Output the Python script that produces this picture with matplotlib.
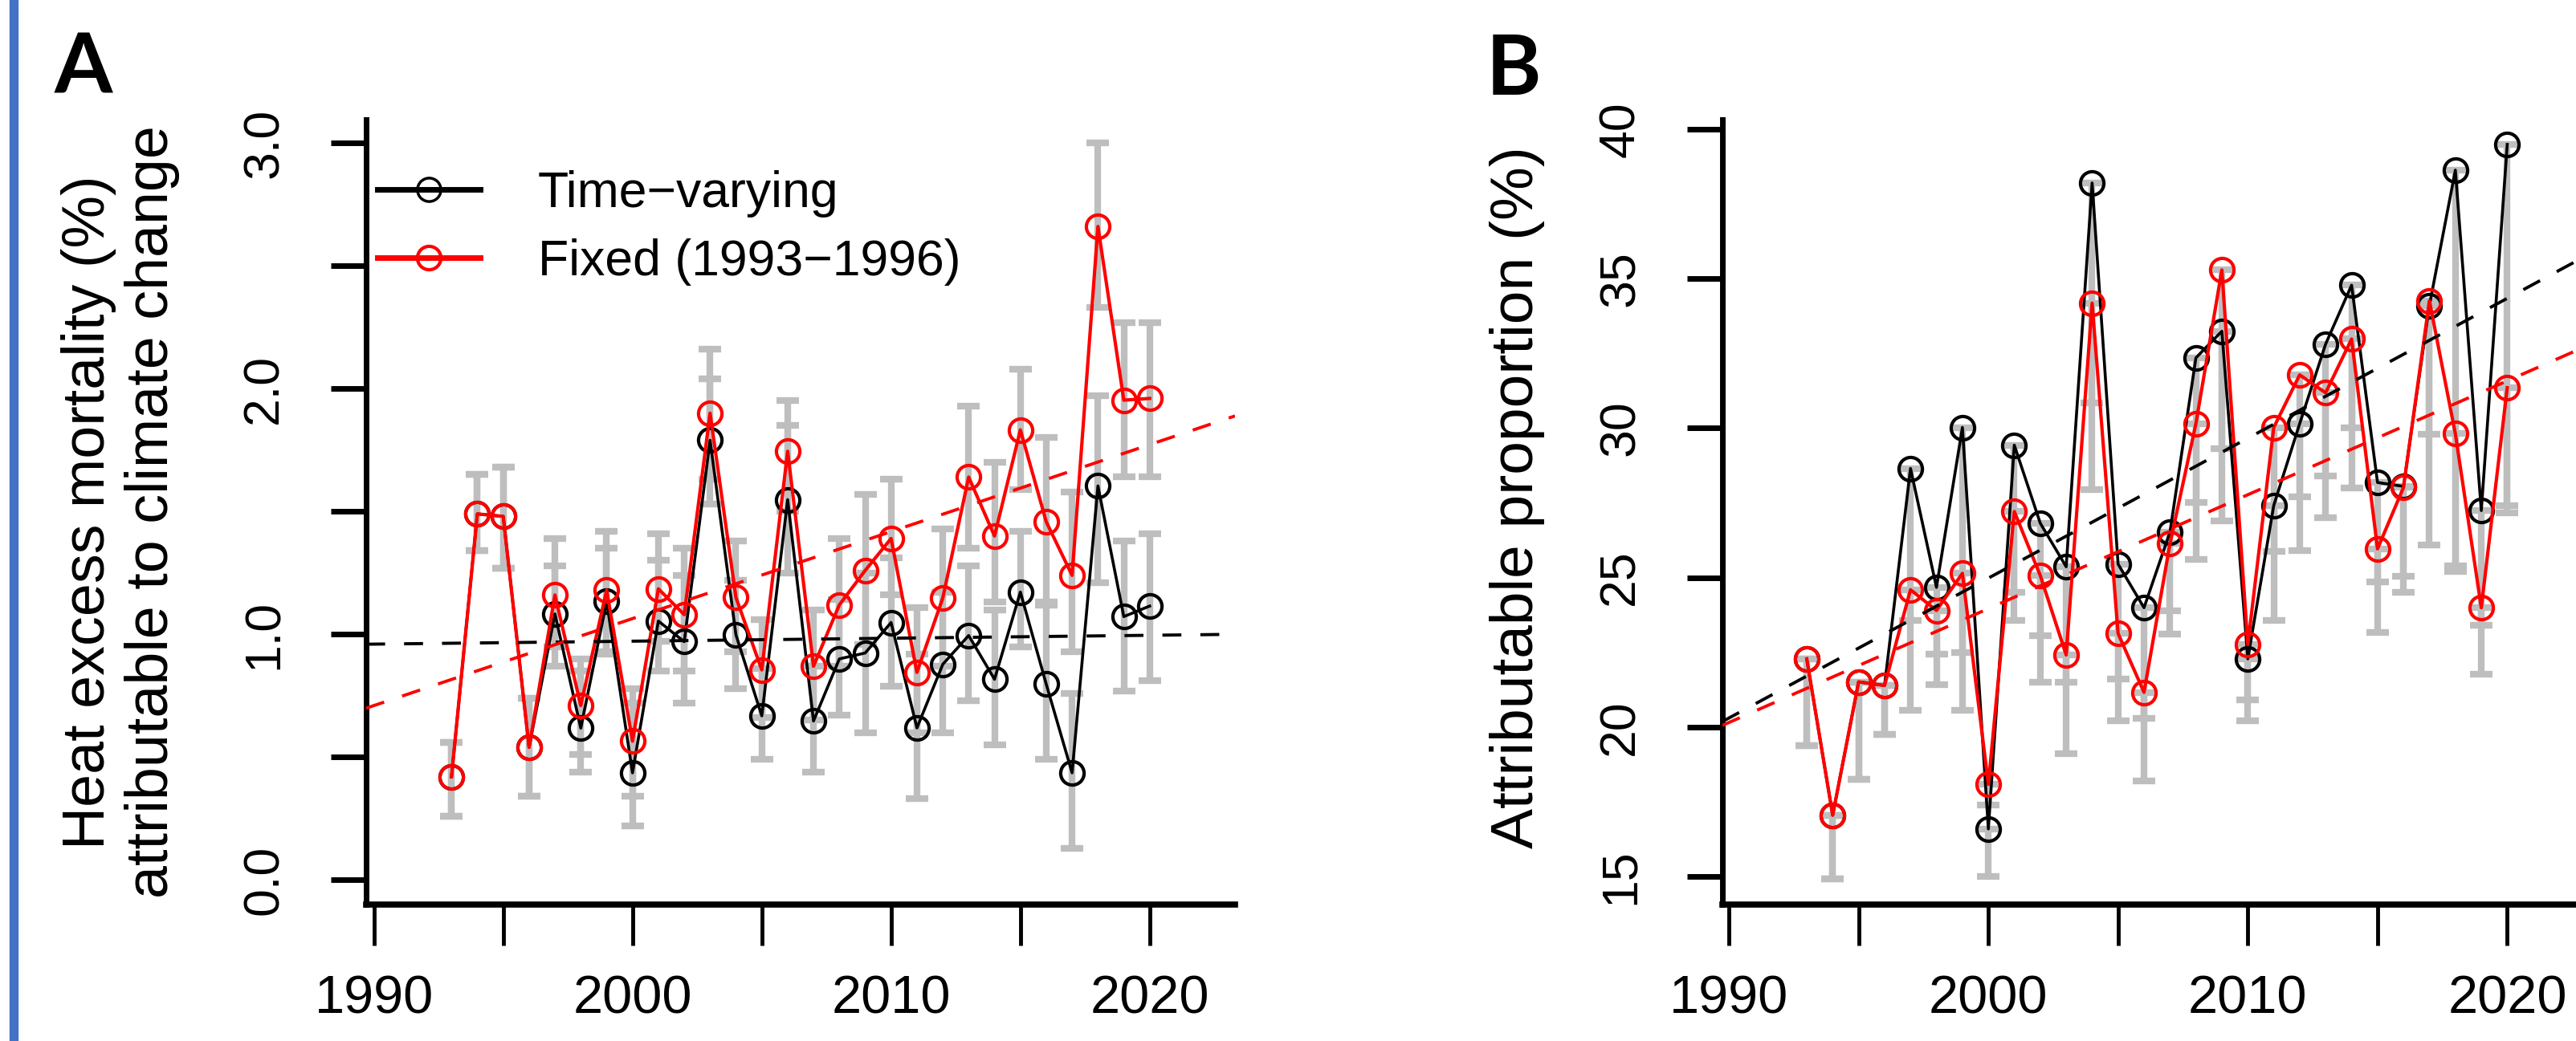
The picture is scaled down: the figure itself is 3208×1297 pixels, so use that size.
import matplotlib
matplotlib.use("Agg")
import matplotlib.pyplot as plt
import numpy as np
from matplotlib import font_manager
from matplotlib.lines import Line2D

# ---- data -------------------------------------------------------------
years = np.arange(1993, 2021)

# Panel A: heat excess mortality attributable to climate change (%)
a_time_varying = np.array([0.42, 1.49, 1.48, 0.54, 1.083, 0.618, 1.134, 0.436, 1.054, 0.97,
                           1.79, 0.998, 0.668, 1.548, 0.647, 0.90, 0.924, 1.048, 0.619, 0.878,
                           0.995, 0.817, 1.172, 0.797, 0.436, 1.604, 1.072, 1.115])
a_tv_low = np.array([0.26, 1.34, 1.27, 0.34, 0.87, 0.44, 0.92, 0.22, 0.85, 0.72,
                     1.53, 0.78, 0.49, 1.25, 0.44, 0.67, 0.60, 0.79, 0.33, 0.60,
                     0.73, 0.55, 0.95, 0.49, 0.13, 1.21, 0.77, 0.81])
a_tv_high = np.array([0.56, 1.65, 1.68, 0.74, 1.28, 0.85, 1.35, 0.72, 1.30, 1.24,
                      2.04, 1.22, 0.86, 1.85, 0.87, 1.14, 1.25, 1.31, 0.92, 1.17,
                      1.28, 1.10, 1.42, 1.12, 0.76, 1.97, 1.38, 1.41])
a_fixed = np.array([0.42, 1.49, 1.48, 0.54, 1.16, 0.71, 1.18, 0.565, 1.185, 1.08,
                    1.90, 1.15, 0.855, 1.745, 0.87, 1.12, 1.26, 1.39, 0.845, 1.148,
                    1.64, 1.40, 1.832, 1.458, 1.24, 2.66, 1.953, 1.96])
a_fx_low = np.array([0.26, 1.34, 1.27, 0.34, 0.95, 0.51, 0.93, 0.34, 0.97, 0.85,
                     1.63, 0.93, 0.66, 1.50, 0.65, 0.87, 0.96, 1.16, 0.60, 0.87,
                     1.35, 1.13, 1.59, 1.13, 0.93, 2.33, 1.64, 1.64])
a_fx_high = np.array([0.56, 1.65, 1.68, 0.74, 1.39, 0.90, 1.42, 0.78, 1.41, 1.35,
                      2.16, 1.38, 1.06, 1.95, 1.10, 1.39, 1.57, 1.63, 1.11, 1.43,
                      1.93, 1.70, 2.08, 1.80, 1.58, 3.00, 2.27, 2.27])
# linear trends: (value in 1990, slope per year)
a_trend_tv = (0.96, 0.0012)
a_trend_fx = (0.71, 0.0354)

# Panel B: attributable proportion (%), bars run from the lower bound to the estimate
b_time_varying = np.array([22.28, 17.05, 21.51, 21.39, 28.65, 24.67, 30.02, 16.59, 29.43, 26.82,
                           25.36, 38.20, 25.45, 23.99, 26.52, 32.35, 33.24, 22.28, 27.41, 30.15,
                           32.81, 34.78, 28.18, 28.05, 34.10, 38.63, 27.24, 39.49])
b_tv_low = np.array([19.37, 14.91, 18.25, 19.74, 20.57, 21.42, 20.57, 15.0, 23.56, 21.5,
                     21.5, 27.93, 20.2, 20.3, 23.1, 27.5, 26.9, 20.2, 23.56, 25.9,
                     27.0, 28.0, 24.85, 24.5, 26.1, 25.2, 23.4, 27.16])
b_fixed = np.array([22.28, 17.05, 21.51, 21.39, 24.59, 23.90, 25.14, 18.08, 27.21, 25.07,
                    22.41, 34.18, 23.13, 21.16, 26.13, 30.15, 35.29, 22.76, 30.02, 31.78,
                    31.18, 32.98, 25.96, 28.01, 34.26, 29.81, 23.99, 31.35])
b_fx_low = np.array([19.37, 14.91, 18.25, 19.74, 23.56, 22.45, 22.5, 17.4, 24.5, 23.05,
                     19.1, 30.84, 21.6, 18.2, 23.9, 25.6, 29.3, 20.9, 25.87, 27.7,
                     28.4, 30.0, 23.17, 25.05, 29.8, 25.4, 21.76, 27.4])
b_trend_tv = (20.3, 0.468)
b_trend_fx = (20.15, 0.381)

labels = ["Time\u2212varying", "Fixed (1993\u22121996)"]

# ---- style ------------------------------------------------------------
W, H = 3208, 1297
GREY = "#BEBEBE"
RED = "#FF0000"

try:
    font_manager.findfont("Liberation Sans Narrow", fallback_to_default=False)
    XFONT, XSIZE = "Liberation Sans Narrow", 57
except Exception:
    XFONT, XSIZE = "Liberation Sans", 48

plt.rcParams["font.family"] = ["Liberation Sans", "DejaVu Sans"]
plt.rcParams["lines.scale_dashes"] = False


def px_axes(fig, left, right, top, bottom):
    return fig.add_axes([left / W, 1 - bottom / H, (right - left) / W, (bottom - top) / H])


def draw_series(ax, est, low, high, colour, lw, z):
    ax.errorbar(years, est, yerr=[est - low, high - est], fmt="none", ecolor=GREY,
                elinewidth=6, capsize=10.4, capthick=6, zorder=1)
    ax.plot(years, est, "-o", color=colour, lw=lw, ms=21, mfc="none", mew=3, zorder=z)


def draw_trend(ax, trend, colour):
    ax.axline((1990, trend[0]), slope=trend[1], color=colour, lw=2.8,
              dashes=(17, 17), zorder=5)


def style_axes(ax, xlim, ylim, yticks, yticklabels):
    ax.set_xlim(*xlim)
    ax.set_ylim(*ylim)
    for side in ("top", "right"):
        ax.spines[side].set_visible(False)
    ax.spines["left"].set_linewidth(5)
    ax.spines["bottom"].set_linewidth(5.5)
    ax.set_xticks(np.arange(1990, 2021, 5))
    ax.set_xticklabels(["1990", "", "2000", "", "2010", "", "2020"])
    ax.tick_params(axis="x", length=37, width=3.5, pad=26, labelsize=XSIZE)
    for lbl in ax.get_xticklabels():
        lbl.set_fontfamily(XFONT)
    ax.set_yticks(yticks)
    ax.set_yticklabels(yticklabels)
    ax.tick_params(axis="y", length=32, width=5, pad=38, labelsize=45)
    for lbl in ax.get_yticklabels():
        lbl.set_rotation(90)
        lbl.set_va("center")


fig = plt.figure(figsize=(W / 100, H / 100), dpi=100)

# blue bar at the left edge
fig.patches.append(plt.Rectangle((12 / W, 0), 10 / W, 1, transform=fig.transFigure,
                                 color="#4472C4", zorder=0))

# ---- panel A ----------------------------------------------------------
ax = px_axes(fig, 456, 1538, 149, 1127)
draw_series(ax, a_time_varying, a_tv_low, a_tv_high, "black", 2.6, 3)
draw_series(ax, a_fixed, a_fx_low, a_fx_high, RED, 3.0, 4)
draw_trend(ax, a_trend_tv, "black")
draw_trend(ax, a_trend_fx, RED)
style_axes(ax, (1989.7, 2023.3), (-0.10, 3.095), np.arange(0, 3.01, 0.5),
           ["0.0", "", "1.0", "", "2.0", "", "3.0"])

handles = [Line2D([], [], color="black", lw=5, marker="o", ms=21, mfc="none", mew=2.5),
           Line2D([], [], color=RED, lw=5, marker="o", ms=21, mfc="none", mew=3)]
ax.legend(handles, labels, loc="upper left", bbox_to_anchor=(0.013, 0.936),
          frameon=False, fontsize=45, borderpad=0, borderaxespad=0,
          handlelength=2.05, handletextpad=1.15, labelspacing=0.42)

fig.text(150 / W, 1 - 638 / H, "Heat excess mortality (%)\nattributable to climate change",
         rotation=90, ha="center", va="center", fontsize=53, linespacing=1.17)
fig.text(104 / W, 1 - 116 / H, "A", fontsize=75, fontweight="bold", family="Lato",
         ha="center", va="baseline")

# ---- panel B ----------------------------------------------------------
ax = px_axes(fig, 2145, W, 149, 1127)
draw_series(ax, b_time_varying, b_tv_low, b_time_varying, "black", 2.6, 3)
draw_series(ax, b_fixed, b_fx_low, b_fixed, RED, 3.0, 4)
draw_trend(ax, b_trend_tv, "black")
draw_trend(ax, b_trend_fx, RED)
style_axes(ax, (1989.75, 2022.65), (14.06, 40.32), np.arange(15, 41, 5),
           [str(v) for v in range(15, 41, 5)])

fig.text(1890 / W, 1 - 620 / H, "Attributable proportion (%)", rotation=90,
         ha="center", va="center", fontsize=54)
fig.text(1885 / W, 1 - 118 / H, "B", fontsize=75, fontweight="bold", family="Lato",
         ha="center", va="baseline")

fig.savefig("out.png", dpi=100)
